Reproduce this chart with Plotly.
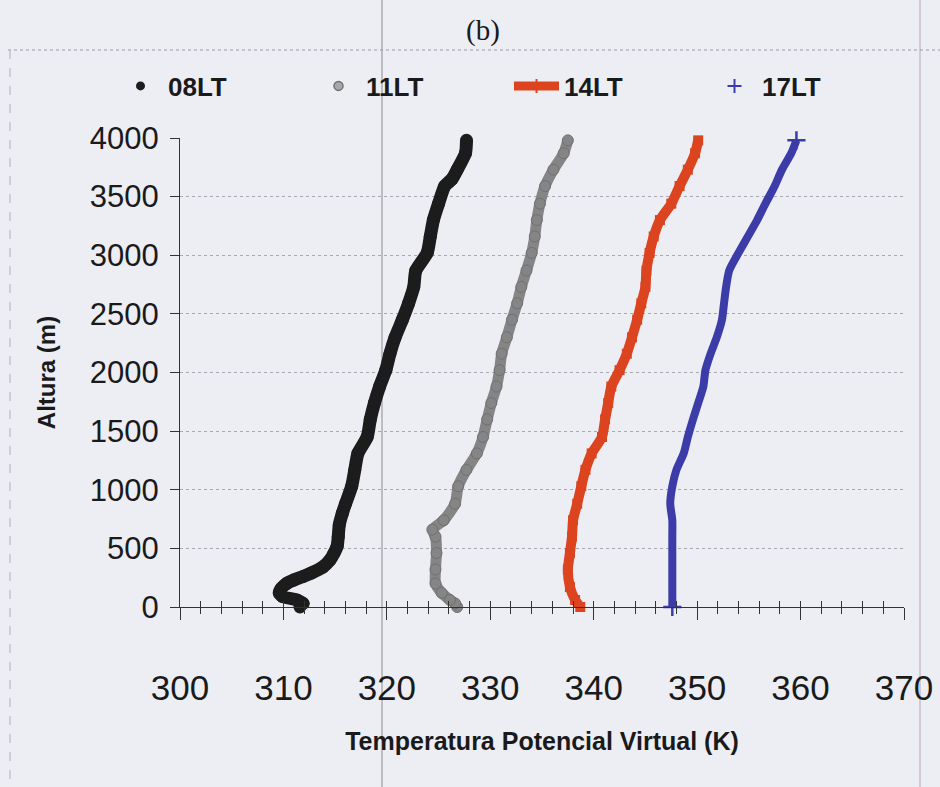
import plotly.graph_objects as go

# ---------------- data ----------------
h_08 = [0, 30, 60, 90, 120, 160, 200, 230, 260, 290, 340, 400, 460, 520, 600, 700, 800, 880,
        1030, 1170, 1310, 1450, 1600, 1740, 1880, 2020, 2160, 2300, 2450, 2590, 2730, 2870,
        3020, 3160, 3300, 3440, 3590, 3650, 3730, 3870, 3980]
t_08 = [311.6, 311.9, 311.3, 309.9, 309.6, 309.8, 310.3, 311.0, 311.9, 312.7, 313.8, 314.5,
        314.9, 315.2, 315.3, 315.4, 315.7, 316.0, 316.6, 316.9, 317.2, 318.1, 318.4, 318.8,
        319.3, 319.9, 320.3, 320.8, 321.5, 322.1, 322.6, 322.8, 323.9, 324.2, 324.5, 325.0,
        325.6, 326.3, 326.8, 327.6, 327.7]

h_11 = [0, 30, 60, 120, 200, 320, 460, 600, 660, 740, 880, 1030, 1170, 1310, 1450, 1600, 1740,
        1880, 2020, 2160, 2300, 2450, 2590, 2730, 2870, 3020, 3160, 3300, 3440, 3590, 3730,
        3870, 3980]
t_11 = [326.8, 326.6, 326.1, 325.3, 324.7, 324.7, 324.8, 324.7, 324.4, 325.5, 326.6, 326.9,
        327.7, 328.7, 329.3, 329.7, 330.1, 330.6, 330.9, 331.1, 331.6, 332.1, 332.6, 333.0,
        333.5, 334.0, 334.3, 334.5, 334.8, 335.3, 336.1, 337.1, 337.5]

h_14 = [0, 60, 170, 320, 460, 600, 740, 880, 1030, 1170, 1310, 1450, 1600, 1740, 1880, 2020,
        2160, 2300, 2450, 2590, 2730, 2870, 3020, 3160, 3300, 3440, 3590, 3730, 3870, 3980]
t_14 = [338.7, 338.2, 337.7, 337.5, 337.7, 337.9, 338.0, 338.4, 338.8, 339.2, 339.8, 340.8,
        341.1, 341.4, 341.7, 342.5, 343.2, 343.7, 344.2, 344.6, 345.0, 345.1, 345.4, 345.8,
        346.4, 347.5, 348.3, 349.1, 349.8, 350.1]

h_17 = [0, 170, 320, 460, 600, 740, 880, 1030, 1170, 1310, 1450, 1600, 1740, 1880, 2020, 2160,
        2300, 2450, 2590, 2730, 2870, 3020, 3160, 3300, 3440, 3590, 3730, 3870, 3980]
t_17 = [347.6, 347.6, 347.6, 347.6, 347.6, 347.6, 347.4, 347.6, 348.0, 348.7, 349.1, 349.6,
        350.1, 350.6, 350.8, 351.3, 351.9, 352.4, 352.6, 352.8, 353.1, 354.0, 354.9, 355.8,
        356.6, 357.5, 358.2, 359.1, 359.6]

series_names = ["08LT", "11LT", "14LT", "17LT"]
x_ticks = [300, 310, 320, 330, 340, 350, 360, 370]
y_ticks = [0, 500, 1000, 1500, 2000, 2500, 3000, 3500, 4000]

# ---------------- styling ----------------
BG = "#eceef4"
C08, C11, C14, C17 = "#1c1c1c", "#858585", "#dc4420", "#3b3ca8"
SANS = "Liberation Sans, Arial, sans-serif"

fig = go.Figure()

# profile curves
fig.add_trace(go.Scatter(x=t_08, y=h_08, mode="lines+markers", showlegend=False, cliponaxis=False,
                         line=dict(color=C08, width=13, shape="spline", smoothing=0.6),
                         marker=dict(color=C08, size=13)))
fig.add_trace(go.Scatter(x=t_11, y=h_11, mode="lines+markers", showlegend=False, cliponaxis=False,
                         line=dict(color=C11, width=11, shape="spline", smoothing=0.6),
                         marker=dict(color=C11, size=11, line=dict(color="#707070", width=1))))
fig.add_trace(go.Scatter(x=t_14, y=h_14, mode="lines+markers", showlegend=False, cliponaxis=False,
                         line=dict(color=C14, width=10, shape="spline", smoothing=0.6),
                         marker=dict(color=C14, size=10, symbol="square")))
fig.add_trace(go.Scatter(x=t_17, y=h_17, mode="lines", showlegend=False, cliponaxis=False,
                         line=dict(color=C17, width=8, shape="spline", smoothing=0.6)))
fig.add_trace(go.Scatter(x=[t_17[0], t_17[-1]], y=[h_17[0], h_17[-1]], mode="markers",
                         showlegend=False, cliponaxis=False,
                         marker=dict(color=C17, size=13, symbol="cross-thin-open",
                                     line=dict(color=C17, width=2.5))))

# legend entries
fig.add_trace(go.Scatter(x=[None], y=[None], xaxis="x2", mode="markers", name=series_names[0],
                         marker=dict(color=C08, size=9)))
fig.add_trace(go.Scatter(x=[None], y=[None], xaxis="x2", mode="markers", name=series_names[1],
                         marker=dict(color="#a8a8a8", size=9, line=dict(color="#707070", width=1.5))))
fig.add_trace(go.Scatter(x=[None], y=[None], xaxis="x2", mode="lines+markers", name=series_names[2],
                         line=dict(color=C14, width=9),
                         marker=dict(color=C14, size=10, symbol="cross-thin-open", line=dict(color=C14, width=2))))
fig.add_trace(go.Scatter(x=[None], y=[None], xaxis="x2", mode="markers", name=series_names[3],
                         marker=dict(color=C17, size=10, symbol="cross-thin-open", line=dict(color=C17, width=2))))

L, R, T, B = 180, 36, 138, 180
W, H = 940, 787
pw, ph = W - L - R, H - T - B


def px(x):
    return (x - L) / pw


def py(y):
    return (H - B - y) / ph


shapes = [
    # scan artefacts: page fold and frame lines
    dict(type="line", xref="paper", yref="paper", x0=px(382), x1=px(382), y0=py(0), y1=py(787),
         line=dict(color="#8c8c92", width=1), layer="below"),
    dict(type="line", xref="paper", yref="paper", x0=px(920), x1=px(920), y0=py(0), y1=py(787),
         line=dict(color="#c9bccb", width=1.5), layer="below"),
    dict(type="line", xref="paper", yref="paper", x0=px(8), x1=px(940), y0=py(50), y1=py(50),
         line=dict(color="#9a9aa2", width=1, dash="dot"), layer="below"),
    dict(type="line", xref="paper", yref="paper", x0=px(10), x1=px(10), y0=py(50), y1=py(787),
         line=dict(color="#b0b0b8", width=1, dash="dash"), layer="below"),
]

fig.update_layout(
    width=W, height=H,
    margin=dict(l=L, r=R, t=T, b=B, autoexpand=False),
    paper_bgcolor=BG, plot_bgcolor=BG,
    title=dict(text="(b)", x=483 / W, xanchor="center", y=1 - 30 / H, yanchor="middle",
               font=dict(family="Liberation Serif, Times New Roman, serif", size=29, color="#1a1a1a")),
    showlegend=True,
    legend=dict(orientation="h", x=px(113), xanchor="left", y=py(86), yanchor="middle",
                bgcolor="rgba(0,0,0,0)", entrywidth=138, entrywidthmode="pixels", itemwidth=45,
                font=dict(family=SANS, size=26, color="#1a1a1a", weight="bold"),
                itemclick=False, itemdoubleclick=False),
    shapes=shapes,
    xaxis=dict(
        range=[300, 370], tickvals=x_ticks, ticktext=[str(v) for v in x_ticks],
        showgrid=False, zeroline=False, showline=True, linecolor="#333", linewidth=1.2,
        ticks="outside", ticklen=12, tickwidth=1.2, tickcolor="#333",
        minor=dict(dtick=2, ticks="outside", ticklen=6, tickwidth=1.2, tickcolor="#333", showgrid=False),
        ticklabelstandoff=38,
        tickfont=dict(family=SANS, size=35, color="#1a1a1a"),
        title=dict(text="Temperatura Potencial Virtual (K)", standoff=26,
                   font=dict(family=SANS, size=25, color="#1a1a1a", weight="bold")),
    ),
    xaxis2=dict(
        matches="x", overlaying="x", anchor="y", side="bottom", showgrid=False, zeroline=False,
        showline=False, ticks="inside", dtick=2, tick0=300, ticklen=6, tickwidth=1.2, tickcolor="#333",
        showticklabels=False,
    ),
    yaxis=dict(
        range=[0, 4000], tickvals=y_ticks, ticktext=[str(v) for v in y_ticks],
        showgrid=True, gridcolor="#a8a8b0", griddash="dot", gridwidth=1,
        zeroline=False, showline=True, linecolor="#333", linewidth=1.2,
        ticks="outside", ticklen=9, tickwidth=1.2, tickcolor="#333",
        ticklabelstandoff=5,
        tickfont=dict(family=SANS, size=31, color="#1a1a1a"),
        title=dict(text="Altura (m)", standoff=27,
                   font=dict(family=SANS, size=24, color="#1a1a1a", weight="bold")),
    ),
)

fig.write_html("out.html")
